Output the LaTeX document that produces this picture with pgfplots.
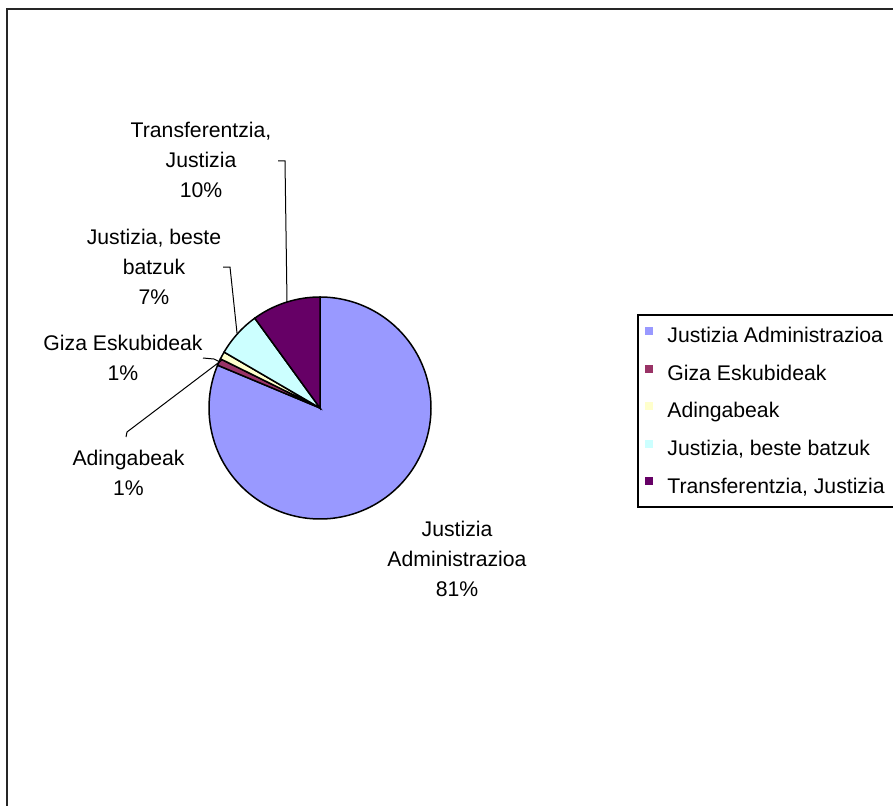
\documentclass[border=0pt]{standalone}
\usepackage{pgfplots}
\pgfplotsset{compat=1.18}
\usepackage{pgfplotstable}
\usepackage{fontspec}
\setmainfont{Liberation Sans}

\definecolor{cJA}{HTML}{9999FF}
\definecolor{cGE}{HTML}{993366}
\definecolor{cAD}{HTML}{FFFFCC}
\definecolor{cJB}{HTML}{CCFFFF}
\definecolor{cTJ}{HTML}{660066}

% shares in percent, Excel order (clockwise from 12 o'clock)
\pgfplotstableread{
key value
JA 81.3
GE 1.0
AD 1.1
JB 6.6
TJ 10.0
}\piedata

\pgfplotstablegetelem{0}{value}\of\piedata \edef\vA{\pgfplotsretval}
\pgfplotstablegetelem{1}{value}\of\piedata \edef\vB{\pgfplotsretval}
\pgfplotstablegetelem{2}{value}\of\piedata \edef\vC{\pgfplotsretval}
\pgfplotstablegetelem{3}{value}\of\piedata \edef\vD{\pgfplotsretval}
\pgfplotstablegetelem{4}{value}\of\piedata \edef\vE{\pgfplotsretval}
\pgfmathsetmacro\aA{90}
\pgfmathsetmacro\aB{\aA-3.6*\vA}
\pgfmathsetmacro\aC{\aB-3.6*\vB}
\pgfmathsetmacro\aD{\aC-3.6*\vC}
\pgfmathsetmacro\aE{\aD-3.6*\vD}
\pgfmathsetmacro\aF{\aE-3.6*\vE}

\newcommand\lblfont{\fontsize{10.6}{15}\selectfont}

\begin{document}
\begin{tikzpicture}
\begin{axis}[
    x=0.5pt, y=0.5pt,
    xmin=0, xmax=893, ymin=0, ymax=805,
    hide axis, clip=false,
    legend style={at={(axis cs:638,489)}, anchor=north west,
        draw=none, draw opacity=0, fill=none,
        font=\fontsize{10.6}{12}\selectfont,
        inner xsep=3pt, inner ysep=5pt,
        row sep=8.2pt, column sep=7pt,
        nodes={inner sep=0pt, text height=8pt, text depth=2.5pt}},
    legend cell align=left,
    legend image code/.code={\draw[#1, line width=0.5pt] (0pt,1.1pt) rectangle (4pt,5.1pt);},
    pie/.style={draw=black, line width=0.75pt, samples=150},
]
\addplot[pie, fill=cJA, domain=\aB:\aA] ({320+111*cos(x)},{397+111*sin(x)}) -- (axis cs:320,397) -- cycle;
\addlegendentry{Justizia Administrazioa}
\addplot[pie, fill=cGE, domain=\aC:\aB] ({320+111*cos(x)},{397+111*sin(x)}) -- (axis cs:320,397) -- cycle;
\addlegendentry{Giza Eskubideak}
\addplot[pie, fill=cAD, domain=\aD:\aC] ({320+111*cos(x)},{397+111*sin(x)}) -- (axis cs:320,397) -- cycle;
\addlegendentry{Adingabeak}
\addplot[pie, fill=cJB, domain=\aE:\aD] ({320+111*cos(x)},{397+111*sin(x)}) -- (axis cs:320,397) -- cycle;
\addlegendentry{Justizia, beste batzuk}
\addplot[pie, fill=cTJ, domain=\aF:\aE] ({320+111*cos(x)},{397+111*sin(x)}) -- (axis cs:320,397) -- cycle;
\addlegendentry{\makebox[130pt][l]{Transferentzia, Justizia}}

% legend frame, cut off by the right edge as in the original
\draw[black, line width=0.6pt] (axis cs:960,490) -- (axis cs:638,490) -- (axis cs:638,298) -- (axis cs:960,298);

% leader lines
\draw[line width=0.5pt] (axis cs:278,644) -- (axis cs:285,644) -- (axis cs:287,503);
\draw[line width=0.5pt] (axis cs:223,538) -- (axis cs:230,538) -- (axis cs:237,472);
\draw[line width=0.5pt] (axis cs:203,447) -- (axis cs:214,446) -- (axis cs:220,443);
\draw[line width=0.5pt] (axis cs:126,368) -- (axis cs:127,373) -- (axis cs:222,445);

% data labels
\node[align=center, font=\lblfont] at (axis cs:201,645) {Transferentzia,\\Justizia\\10\%};
\node[align=center, font=\lblfont] at (axis cs:154,538) {Justizia, beste\\batzuk\\7\%};
\node[align=center, font=\lblfont] at (axis cs:123,447.5) {Giza Eskubideak\\1\%};
\node[align=center, font=\lblfont] at (axis cs:128.5,332) {Adingabeak\\1\%};
\node[align=center, font=\lblfont] at (axis cs:457,246) {Justizia\\Administrazioa\\81\%};

% chart frame
\draw[black!85, line width=1pt] (axis cs:7,796) rectangle (axis cs:910,-20);
\end{axis}
\pgfresetboundingbox
\path[use as bounding box] (0,0) rectangle (446.5pt,402.5pt);
\end{tikzpicture}
\end{document}
